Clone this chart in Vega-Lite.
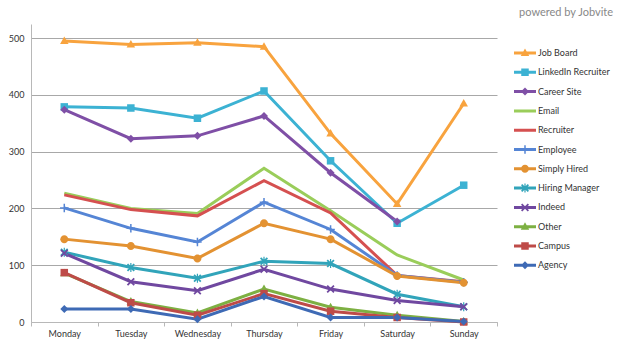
{
  "$schema": "https://vega.github.io/schema/vega-lite/v6.json",
  "width": 466,
  "height": 298,
  "padding": {"left": 8, "top": 7, "right": 5, "bottom": 2},
  "background": "white",
  "config": {"view": {"stroke": null}, "font": "Lato"},
  "title": {"text": "powered by Jobvite", "anchor": "end", "frame": "group", "dx": 116, "fontSize": 11, "fontWeight": "normal", "color": "#888888", "offset": 6},
  "resolve": {"legend": {"color": "independent", "shape": "independent"}},
  "data": {"values": [
    {"series": "Job Board", "day": "Monday", "value": 495},
    {"series": "Job Board", "day": "Tuesday", "value": 489},
    {"series": "Job Board", "day": "Wednesday", "value": 492},
    {"series": "Job Board", "day": "Thursday", "value": 485},
    {"series": "Job Board", "day": "Friday", "value": 332},
    {"series": "Job Board", "day": "Saturday", "value": 208},
    {"series": "Job Board", "day": "Sunday", "value": 385},
    {"series": "LinkedIn Recruiter", "day": "Monday", "value": 379},
    {"series": "LinkedIn Recruiter", "day": "Tuesday", "value": 377},
    {"series": "LinkedIn Recruiter", "day": "Wednesday", "value": 359},
    {"series": "LinkedIn Recruiter", "day": "Thursday", "value": 407},
    {"series": "LinkedIn Recruiter", "day": "Friday", "value": 284},
    {"series": "LinkedIn Recruiter", "day": "Saturday", "value": 174},
    {"series": "LinkedIn Recruiter", "day": "Sunday", "value": 241},
    {"series": "Career Site", "day": "Monday", "value": 374},
    {"series": "Career Site", "day": "Tuesday", "value": 323},
    {"series": "Career Site", "day": "Wednesday", "value": 328},
    {"series": "Career Site", "day": "Thursday", "value": 363},
    {"series": "Career Site", "day": "Friday", "value": 263},
    {"series": "Career Site", "day": "Saturday", "value": 177},
    {"series": "Email", "day": "Monday", "value": 227},
    {"series": "Email", "day": "Tuesday", "value": 200},
    {"series": "Email", "day": "Wednesday", "value": 191},
    {"series": "Email", "day": "Thursday", "value": 271},
    {"series": "Email", "day": "Friday", "value": 196},
    {"series": "Email", "day": "Saturday", "value": 118},
    {"series": "Email", "day": "Sunday", "value": 74},
    {"series": "Recruiter", "day": "Monday", "value": 224},
    {"series": "Recruiter", "day": "Tuesday", "value": 198},
    {"series": "Recruiter", "day": "Wednesday", "value": 187},
    {"series": "Recruiter", "day": "Thursday", "value": 249},
    {"series": "Recruiter", "day": "Friday", "value": 192},
    {"series": "Recruiter", "day": "Saturday", "value": 82},
    {"series": "Recruiter", "day": "Sunday", "value": 71},
    {"series": "Employee", "day": "Monday", "value": 201},
    {"series": "Employee", "day": "Tuesday", "value": 165},
    {"series": "Employee", "day": "Wednesday", "value": 141},
    {"series": "Employee", "day": "Thursday", "value": 211},
    {"series": "Employee", "day": "Friday", "value": 163},
    {"series": "Employee", "day": "Saturday", "value": 82},
    {"series": "Employee", "day": "Sunday", "value": 70},
    {"series": "Simply Hired", "day": "Monday", "value": 146},
    {"series": "Simply Hired", "day": "Tuesday", "value": 134},
    {"series": "Simply Hired", "day": "Wednesday", "value": 112},
    {"series": "Simply Hired", "day": "Thursday", "value": 174},
    {"series": "Simply Hired", "day": "Friday", "value": 146},
    {"series": "Simply Hired", "day": "Saturday", "value": 81},
    {"series": "Simply Hired", "day": "Sunday", "value": 69},
    {"series": "Hiring Manager", "day": "Monday", "value": 123},
    {"series": "Hiring Manager", "day": "Tuesday", "value": 96},
    {"series": "Hiring Manager", "day": "Wednesday", "value": 77},
    {"series": "Hiring Manager", "day": "Thursday", "value": 107},
    {"series": "Hiring Manager", "day": "Friday", "value": 103},
    {"series": "Hiring Manager", "day": "Saturday", "value": 49},
    {"series": "Hiring Manager", "day": "Sunday", "value": 27},
    {"series": "Indeed", "day": "Monday", "value": 121},
    {"series": "Indeed", "day": "Tuesday", "value": 71},
    {"series": "Indeed", "day": "Wednesday", "value": 55},
    {"series": "Indeed", "day": "Thursday", "value": 93},
    {"series": "Indeed", "day": "Friday", "value": 58},
    {"series": "Indeed", "day": "Saturday", "value": 38},
    {"series": "Indeed", "day": "Sunday", "value": 27},
    {"series": "Other", "day": "Monday", "value": 86},
    {"series": "Other", "day": "Tuesday", "value": 36},
    {"series": "Other", "day": "Wednesday", "value": 16},
    {"series": "Other", "day": "Thursday", "value": 58},
    {"series": "Other", "day": "Friday", "value": 26},
    {"series": "Other", "day": "Saturday", "value": 12},
    {"series": "Other", "day": "Sunday", "value": 1},
    {"series": "Campus", "day": "Monday", "value": 87},
    {"series": "Campus", "day": "Tuesday", "value": 34},
    {"series": "Campus", "day": "Wednesday", "value": 12},
    {"series": "Campus", "day": "Thursday", "value": 50},
    {"series": "Campus", "day": "Friday", "value": 19},
    {"series": "Campus", "day": "Saturday", "value": 8},
    {"series": "Campus", "day": "Sunday", "value": 0},
    {"series": "Agency", "day": "Monday", "value": 23},
    {"series": "Agency", "day": "Tuesday", "value": 23},
    {"series": "Agency", "day": "Wednesday", "value": 5},
    {"series": "Agency", "day": "Thursday", "value": 45},
    {"series": "Agency", "day": "Friday", "value": 8},
    {"series": "Agency", "day": "Saturday", "value": 8},
    {"series": "Agency", "day": "Sunday", "value": 1}
  ]},
  "encoding": {
    "x": {
      "field": "day", "type": "nominal",
      "sort": ["Monday", "Tuesday", "Wednesday", "Thursday", "Friday", "Saturday", "Sunday"],
      "scale": {"type": "band", "paddingInner": 0, "paddingOuter": 0},
      "axis": {"title": null, "labelAngle": 0, "tickBand": "extent", "domainColor": "#b8b8b8", "tickColor": "#b8b8b8", "tickSize": 4, "labelFontSize": 9, "labelColor": "#333333", "labelPadding": 3, "grid": false}
    },
    "y": {
      "field": "value", "type": "quantitative",
      "scale": {"domain": [0, 525], "nice": false},
      "axis": {"title": null, "values": [0, 100, 200, 300, 400, 500], "gridColor": "#a8a8a8", "gridWidth": 1, "domainColor": "#b8b8b8", "ticks": false, "labelFontSize": 9, "labelColor": "#333333", "labelPadding": 7}
    }
  },
  "layer": [
    {
      "mark": {"type": "line", "strokeWidth": 3},
      "encoding": {
        "color": {
          "field": "series", "type": "nominal",
          "scale": {
            "domain": ["Job Board", "LinkedIn Recruiter", "Career Site", "Email", "Recruiter", "Employee", "Simply Hired", "Hiring Manager", "Indeed", "Other", "Campus", "Agency"],
            "range": ["#F8A33E", "#3CB2D3", "#7F4FA6", "#9ACD5A", "#D55050", "#5585D5", "#E39232", "#31A4BA", "#7048A0", "#7DB042", "#BE4B48", "#3E6AB5"]
          },
          "legend": {
            "title": null,
            "orient": "none",
            "legendX": 489,
            "legendY": 24,
            "labelFontSize": 9,
            "labelColor": "#333333",
            "symbolSize": 100,
            "rowPadding": 9.3,
            "labelOffset": 8,
            "encode": {
              "symbols": {
                "update": {
                  "shape": {"signal": "'M-2.2,-0.3L2.2,-0.3L2.2,0.3L-2.2,0.3Z' + scale('shape', datum.value)"},
                  "fill": {"signal": "scale('color', datum.value)"},
                  "strokeWidth": {"value": 0},
                  "opacity": {"value": 1}
                }
              }
            }
          }
        }
      }
    },
    {
      "mark": {"type": "point", "filled": true, "opacity": 1, "size": 100},
      "encoding": {
        "color": {"field": "series", "type": "nominal", "legend": null},
        "shape": {
          "field": "series", "type": "nominal", "legend": null,
          "scale": {
            "domain": ["Job Board", "LinkedIn Recruiter", "Career Site", "Email", "Recruiter", "Employee", "Simply Hired", "Hiring Manager", "Indeed", "Other", "Campus", "Agency"],
            "range": [
              "M0,-0.9L0.85,0.6L-0.85,0.6Z",
              "M-0.75,-0.75L0.75,-0.75L0.75,0.75L-0.75,0.75Z",
              "M0,-0.8L0.8,0L0,0.8L-0.8,0Z",
              "M0,0L0,0Z",
              "M0,0L0,0Z",
              "M-0.15,-0.85L0.15,-0.85L0.15,0.85L-0.15,0.85ZM-0.85,-0.15L0.85,-0.15L0.85,0.15L-0.85,0.15Z",
              "M-0.8,0A0.8,0.8 0 1,1 0.8,0A0.8,0.8 0 1,1 -0.8,0Z",
              "M-0.8,-0.55L-0.55,-0.8L0,-0.25L0.55,-0.8L0.8,-0.55L0.25,0L0.8,0.55L0.55,0.8L0,0.25L-0.55,0.8L-0.8,0.55L-0.25,0ZM-0.12,-0.9L0.12,-0.9L0.12,0.9L-0.12,0.9Z",
              "M-0.8,-0.55L-0.55,-0.8L0,-0.25L0.55,-0.8L0.8,-0.55L0.25,0L0.8,0.55L0.55,0.8L0,0.25L-0.55,0.8L-0.8,0.55L-0.25,0Z",
              "M0,-0.9L0.85,0.6L-0.85,0.6Z",
              "M-0.75,-0.75L0.75,-0.75L0.75,0.75L-0.75,0.75Z",
              "M0,-0.8L0.8,0L0,0.8L-0.8,0Z"
            ]
          }
        }
      }
    }
  ]
}
